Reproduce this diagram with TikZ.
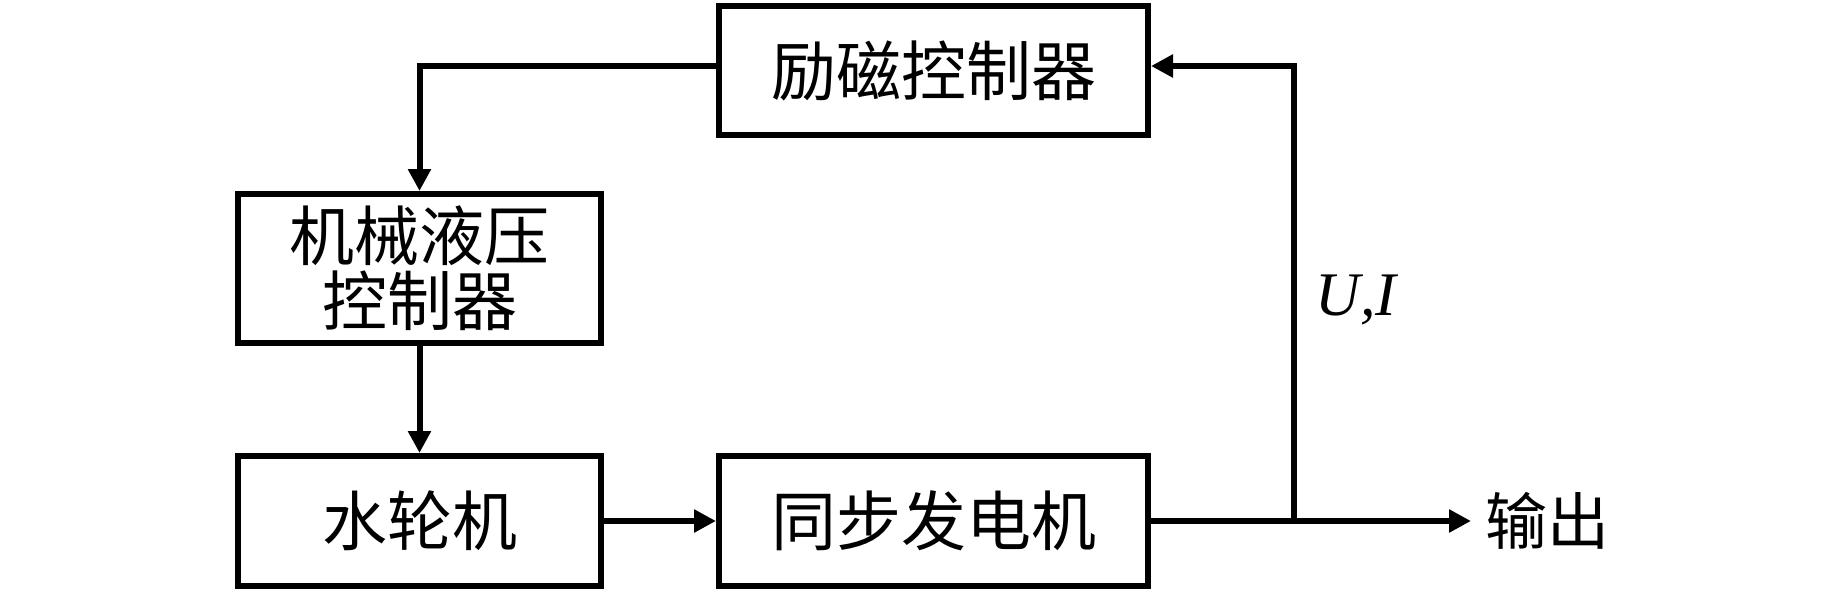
\documentclass[tikz,border=0pt]{standalone}
\usepackage{fontspec}
\setmainfont{Liberation Serif}
\newfontfamily\cjk{Noto Sans CJK SC}
\usetikzlibrary{arrows.meta}
\begin{document}
\begin{tikzpicture}[x=1pt,y=-1pt,
  blk/.style={draw=black,line width=6pt,inner sep=0pt,align=center,
    font=\cjk\fontsize{65}{65}\selectfont},
  conn/.style={line width=6pt,-{Triangle[length=22pt,width=22pt]}}]
\useasboundingbox (0,0) rectangle (1842,592);
\node[blk,minimum width=429pt,minimum height=129pt] (exc) at (933.5,70.5) {励磁控制器};
\node[blk,minimum width=363pt,minimum height=149pt] (mech) at (419.5,268.5) {机械液压\\控制器};
\node[blk,minimum width=363pt,minimum height=130pt] (tur) at (419.5,521) {水轮机};
\node[blk,minimum width=429pt,minimum height=130pt] (gen) at (933.5,521) {同步发电机};
\coordinate (fb) at (1294,66);
\coordinate (jn) at (1294,521);
\coordinate (out) at (1471,521);
\node[font=\cjk\fontsize{62}{65}\selectfont] (outl) at (1547,521) {输出};
\node[font=\itshape\fontsize{62}{70}\selectfont] (ui) at (1356,300) {U,I};
\draw[conn] (exc.west |- fb) -| (mech.north);
\draw[conn] (mech.south) -- (tur.north);
\draw[conn] (tur.east) -- (gen.west);
\draw[conn] (gen.east) -- (out);
\draw[conn] (jn) |- (exc.east |- fb);
\end{tikzpicture}
\end{document}
